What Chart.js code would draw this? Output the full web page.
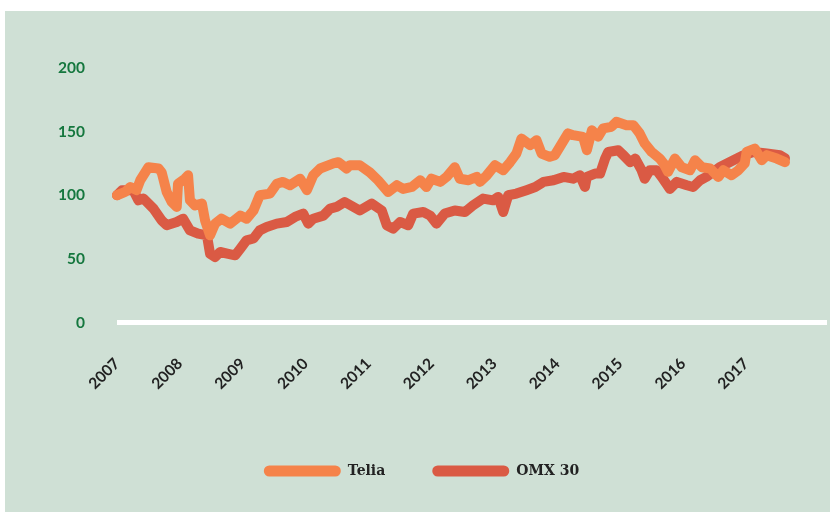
<!DOCTYPE html>
<html>
<head>
<meta charset="utf-8">
<script src="https://cdn.jsdelivr.net/npm/chart.js@4/dist/chart.umd.min.js"></script>
<style>
  html, body { margin: 0; padding: 0; background: #ffffff; }
  #panel { position: absolute; left: 5px; top: 11px; width: 825px; height: 501px; background: #CFE0D5; }
  #panel canvas { display: block; }
</style>
</head>
<body>
<div id="panel"><canvas id="c"></canvas></div>
<script>
// ---- data (index: 2007 start = 100) ----
const seriesNames = ['Telia', 'OMX 30'];
const yearTicks = [2007, 2008, 2009, 2010, 2011, 2012, 2013, 2014, 2015, 2016, 2017];
const yTicks = [0, 50, 100, 150, 200];

const teliaDates = [2007.00, 2007.13, 2007.21, 2007.31, 2007.37, 2007.50, 2007.66, 2007.71, 2007.79, 2007.87,
  2007.95, 2007.97, 2008.08, 2008.13, 2008.16, 2008.24, 2008.35, 2008.40, 2008.48, 2008.56,
  2008.66, 2008.80, 2008.96, 2009.06, 2009.17, 2009.27, 2009.43, 2009.54, 2009.64, 2009.75,
  2009.91, 2010.02, 2010.12, 2010.23, 2010.44, 2010.52, 2010.65, 2010.70, 2010.86, 2011.02,
  2011.15, 2011.31, 2011.45, 2011.55, 2011.69, 2011.82, 2011.92, 2012.00, 2012.14, 2012.24,
  2012.37, 2012.45, 2012.59, 2012.72, 2012.77, 2012.88, 2013.01, 2013.14, 2013.25, 2013.35,
  2013.43, 2013.57, 2013.67, 2013.75, 2013.88, 2013.96, 2014.04, 2014.17, 2014.25, 2014.41,
  2014.47, 2014.55, 2014.65, 2014.73, 2014.86, 2014.94, 2015.10, 2015.21, 2015.31, 2015.39,
  2015.50, 2015.63, 2015.69, 2015.76, 2015.87, 2015.98, 2016.11, 2016.19, 2016.30, 2016.43,
  2016.56, 2016.64, 2016.77, 2016.88, 2016.98, 2017.01, 2017.14, 2017.25, 2017.33, 2017.49, 2017.62];
const teliaValues = [100, 102.6, 106.5, 104, 111.8, 122, 121, 118, 102.6, 94.7,
  90.8, 109, 113, 115.7, 96, 92, 93.5, 80.3, 68.5, 77.7,
  81.6, 77.7, 84, 81.6, 88, 100, 101.3, 109, 110.5, 107.9,
  113, 104, 115.7, 121, 125, 126, 121, 123.6, 123.6, 118,
  111.8, 102.6, 107.9, 105, 106.5, 111.8, 106.5, 113, 110.5, 114.4,
  122, 113, 111.8, 114.4, 110.5, 115.7, 123.6, 119.7, 126, 132.8,
  144.5, 139.4, 143.3, 132.8, 130.2, 131.5, 138, 148.6, 147.2, 145.9,
  135.4, 151, 146, 152.5, 153.8, 157.7, 155, 155, 148.6, 140.7,
  134, 128.8, 125, 118.4, 128.8, 122, 119.7, 127.5, 122, 121,
  114.4, 119.7, 115.7, 119.7, 125, 134, 136.6, 127.5, 131.5, 128.8, 126];

const omxDates = [2007.00, 2007.08, 2007.26, 2007.34, 2007.42, 2007.58, 2007.71, 2007.79, 2007.95, 2008.05,
  2008.16, 2008.29, 2008.43, 2008.48, 2008.56, 2008.64, 2008.77, 2008.88, 2008.96, 2009.06,
  2009.17, 2009.27, 2009.38, 2009.54, 2009.70, 2009.83, 2009.96, 2010.04, 2010.12, 2010.28,
  2010.39, 2010.49, 2010.62, 2010.86, 2011.05, 2011.21, 2011.29, 2011.39, 2011.50, 2011.63,
  2011.71, 2011.87, 2011.98, 2012.08, 2012.21, 2012.37, 2012.53, 2012.66, 2012.82, 2012.98,
  2013.06, 2013.14, 2013.22, 2013.35, 2013.51, 2013.65, 2013.78, 2013.94, 2014.10, 2014.25,
  2014.36, 2014.44, 2014.47, 2014.60, 2014.68, 2014.76, 2014.81, 2014.97, 2015.05, 2015.16,
  2015.24, 2015.34, 2015.39, 2015.47, 2015.58, 2015.66, 2015.79, 2015.90, 2016.06, 2016.16,
  2016.27, 2016.37, 2016.58, 2016.80, 2016.96, 2017.12, 2017.33, 2017.54, 2017.62];
const omxValues = [100, 104, 104, 96, 97.4, 89.5, 80.3, 76.4, 79, 81.6,
  72.4, 69.8, 68.5, 54, 51.4, 55.4, 54, 52.8, 58, 64.6,
  66, 72.4, 75, 77.7, 79, 83, 85.6, 77.7, 81.6, 84,
  89.5, 90.8, 94.7, 88, 93.5, 88, 76.4, 73.7, 79, 76.4,
  85.6, 86.8, 84, 77.7, 85.6, 88, 86.8, 92, 97.4, 96,
  98.7, 86.8, 100, 101.3, 104, 106.5, 110.5, 111.8, 114.4, 113,
  115.7, 106.5, 114.4, 117, 117, 128.8, 134, 135.4, 131.5, 126,
  128.8, 119.7, 113, 119.7, 119.7, 114.4, 105, 110.5, 107.9, 106.5,
  111.8, 114.4, 122, 127.5, 131.5, 134, 132.8, 131.5, 129];

const colors = ['#F5834A', '#DA5A44'];

function toPoints(xs, ys) { return xs.map((x, i) => ({ x: x, y: ys[i] })); }

const ctx = document.getElementById('c');
new Chart(ctx, {
  type: 'line',
  data: {
    datasets: [
      { label: seriesNames[0], data: toPoints(teliaDates, teliaValues) },
      { label: seriesNames[1], data: toPoints(omxDates, omxValues) }
    ].map((d, i) => Object.assign(d, {
      borderColor: colors[i],
      backgroundColor: colors[i],
      borderWidth: 10,
      borderCapStyle: 'round',
      borderJoinStyle: 'round',
      pointRadius: 0,
      pointHoverRadius: 0,
      tension: 0,
      clip: false,
      fill: false
    }))
  },
  options: {
    responsive: true,
    maintainAspectRatio: false,
    animation: false,
    events: [],
    layout: { padding: { left: 12, right: 4, top: 57, bottom: 24 } },
    scales: {
      x: {
        type: 'linear',
        min: 2007.032,
        max: 2018.272,
        afterBuildTicks: (scale) => { scale.ticks = yearTicks.map(v => ({ value: v })); },
        afterFit: (scale) => { scale.height = 94.5; },
        grid: { display: false, drawTicks: false, tickLength: 0 },
        border: { display: true, color: '#FFFFFF', width: 5 },
        ticks: {
          autoSkip: false,
          minRotation: 45,
          maxRotation: 45,
          padding: 32,
          color: '#222222',
          font: { family: 'Lato', weight: 'bold', size: 15.5 },
          callback: (v) => String(v)
        }
      },
      y: {
        min: 0,
        max: 200,
        afterBuildTicks: (scale) => { scale.ticks = yTicks.map(v => ({ value: v })); },
        afterFit: (scale) => { scale.width = 102; },
        grid: { display: false, drawTicks: false, tickLength: 0 },
        border: { display: false },
        ticks: {
          padding: 34,
          color: '#15773E',
          font: { family: 'Lato', weight: 'bold', size: 15.5 }
        }
      }
    },
    plugins: {
      tooltip: { enabled: false },
      legend: {
        position: 'bottom',
        labels: {
          boxWidth: 77,
          boxHeight: 11,
          padding: 47,
          useBorderRadius: true,
          borderRadius: 5.5,
          color: '#222222',
          font: { family: 'DejaVu Serif', weight: 'bold', size: 14 },
          generateLabels: (chart) => {
            const items = Chart.defaults.plugins.legend.labels.generateLabels(chart);
            items.forEach((it, i) => { it.lineWidth = 0; it.fillStyle = colors[i]; it.strokeStyle = colors[i]; });
            return items;
          }
        }
      }
    }
  }
});
</script>
</body>
</html>
